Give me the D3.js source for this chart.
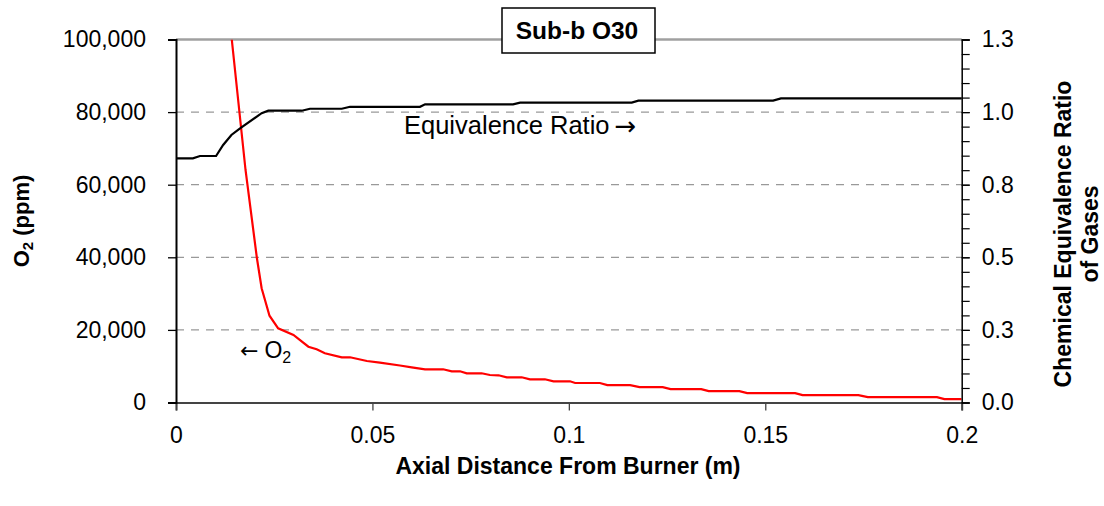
<!DOCTYPE html>
<html><head><meta charset="utf-8">
<script src="https://cdn.jsdelivr.net/npm/d3@7"></script>
<style>body{margin:0;background:#fff;} text{font-family:"Liberation Sans",Arial,sans-serif;}</style>
</head><body><svg id="c" width="1104" height="506"></svg>
<script>
const xTicks = [0, 0.05, 0.1, 0.15, 0.2];
const leftTicks = [0, 20000, 40000, 60000, 80000, 100000];
const rightTicks = [0, 0.26, 0.52, 0.78, 1.04, 1.3];
const o2X = [0.0142,0.0177,0.0206,0.0218,0.0238,0.0260,0.0299,0.0337,0.0358,0.0379,0.0422,0.0443,0.0486,0.0519,0.0570,0.0600,0.0634,0.0680,0.0702,0.0723,0.0740,0.0778,0.0799,0.0821,0.0842,0.0880,0.0901,0.0939,0.0961,0.1003,0.1016,0.1079,0.1098,0.1156,0.1180,0.1239,0.1259,0.1337,0.1356,0.1434,0.1454,0.1576,0.1595,0.1737,0.1761,0.1937,0.1956,0.2];
const o2Y = [100000,64051,39727,31462,23914,20442,18596,15373,14657,13554,12452,12452,11433,10965,10200,9698,9147,9147,8596,8596,8045,8045,7576,7494,6943,6943,6392,6392,5841,5841,5372,5372,4775,4775,4224,4224,3673,3673,3122,3122,2571,2571,2020,2020,1469,1469,918,918];
const erX = [0,0.0043,0.0061,0.0102,0.0120,0.0141,0.0163,0.0218,0.0235,0.0320,0.0341,0.0422,0.0443,0.0621,0.0634,0.0858,0.0876,0.1160,0.1177,0.1520,0.1540,0.2];
const erY = [0.8745,0.8745,0.8828,0.8828,0.9222,0.958,0.982,1.036,1.045,1.045,1.052,1.052,1.059,1.059,1.068,1.068,1.074,1.074,1.081,1.081,1.089,1.089];

const L=176, R=961.7, T=39.5, B=402.5;
const svg = d3.select("#c");
const x = d3.scaleLinear().domain([0,0.2]).range([L,R]);
const yL = d3.scaleLinear().domain([0,100000]).range([B,T]);
const yR = d3.scaleLinear().domain([0,1.3]).range([B,T]);

// gridlines
svg.append("g").selectAll("line").data(leftTicks.slice(1,5)).join("line")
  .attr("x1",L).attr("x2",R).attr("y1",d=>yL(d)).attr("y2",d=>yL(d))
  .attr("stroke","#999").attr("stroke-width",1.3).attr("stroke-dasharray","8,7");
// top border
svg.append("line").attr("x1",L).attr("x2",R).attr("y1",T).attr("y2",T).attr("stroke","#a0a0a0").attr("stroke-width",2.5);

// data lines
svg.append("clipPath").attr("id","pc").append("rect").attr("x",L).attr("y",T).attr("width",R-L).attr("height",B-T);
svg.append("path").datum(o2X.map((v,i)=>[v,o2Y[i]]))
  .attr("d", d3.line().x(d=>x(d[0])).y(d=>yL(d[1])))
  .attr("fill","none").attr("stroke","#ff0000").attr("stroke-width",2.2).attr("clip-path","url(#pc)");
svg.append("path").datum(erX.map((v,i)=>[v,erY[i]]))
  .attr("d", d3.line().x(d=>x(d[0])).y(d=>yR(d[1])))
  .attr("fill","none").attr("stroke","#000").attr("stroke-width",2.2);

// axes
const fs = 23;
const gx = svg.append("g").attr("transform",`translate(0,${B})`)
  .call(d3.axisBottom(x).tickValues(xTicks).tickFormat(d=>String(d)).tickSizeOuter(0).tickSize(8).tickPadding(16));
gx.select(".domain").attr("stroke","#444").attr("stroke-width",2);
gx.selectAll(".tick line").attr("stroke","#444").attr("stroke-width",1.3);
gx.selectAll("text").attr("font-size",fs).attr("fill","#000").attr("font-family","Liberation Sans, Arial");

const gl = svg.append("g").attr("transform",`translate(${L},0)`)
  .call(d3.axisLeft(yL).tickValues(leftTicks).tickFormat(d3.format(",")).tickSizeOuter(0).tickSize(8).tickPadding(22));
gl.select(".domain").attr("stroke","#000").attr("stroke-width",2);
gl.selectAll(".tick line").attr("stroke","#000").attr("stroke-width",1.3);
gl.selectAll("text").attr("font-size",fs).attr("fill","#000").attr("font-family","Liberation Sans, Arial");

const minor = d3.range(0,26).map(i=>i*0.052);
const gr = svg.append("g").attr("transform",`translate(${R},0)`)
  .call(d3.axisRight(yR).tickValues(minor).tickFormat(()=>"").tickSizeOuter(0).tickSize(8));
gr.select(".domain").attr("stroke","#000").attr("stroke-width",1.5);
gr.selectAll(".tick line").attr("stroke","#000").attr("stroke-width",1.2);
const gr2 = svg.append("g").attr("transform",`translate(${R},0)`)
  .call(d3.axisRight(yR).tickValues(rightTicks).tickFormat(d3.format(".1f")).tickSize(8).tickPadding(12));
gr2.select(".domain").remove();
gr2.selectAll(".tick line").attr("stroke","#000").attr("stroke-width",1.2);
gr2.selectAll("text").attr("font-size",fs).attr("fill","#000").attr("font-family","Liberation Sans, Arial");

// titles
svg.append("text").attr("x",568).attr("y",474).attr("text-anchor","middle")
  .attr("font-size",23).attr("font-weight","bold").text("Axial Distance From Burner (m)");
const ly = svg.append("text").attr("transform","translate(29,221) rotate(-90)").attr("text-anchor","middle")
  .attr("font-size",22).attr("font-weight","bold");
ly.append("tspan").text("O");
ly.append("tspan").attr("font-size",15).attr("dy",4).text("2");
ly.append("tspan").attr("dy",-4).text(" (ppm)");
svg.append("text").attr("transform","translate(1071,234) rotate(-90)").attr("text-anchor","middle")
  .attr("font-size",23).attr("font-weight","bold").text("Chemical Equivalence Ratio");
svg.append("text").attr("transform","translate(1098,234) rotate(-90)").attr("text-anchor","middle")
  .attr("font-size",23).attr("font-weight","bold").text("of Gases");

// title box
svg.append("rect").attr("x",502).attr("y",8).attr("width",153).attr("height",45)
  .attr("fill","#fff").attr("stroke","#000").attr("stroke-width",1.5);
svg.append("text").attr("x",577).attr("y",38.5).attr("text-anchor","middle")
  .attr("font-size",24.5).attr("font-weight","bold").text("Sub-b O30");

// annotations
const ae = svg.append("text").attr("x",404).attr("y",134).attr("font-size",25.5);
ae.append("tspan").text("Equivalence Ratio");
ae.append("tspan").attr("font-family","DejaVu Sans").attr("font-size",26).attr("dx",5).attr("dy",1).text("\u2192");
const ao = svg.append("text").attr("x",240).attr("y",358).attr("font-size",23);
ao.append("tspan").attr("font-family","DejaVu Sans").attr("font-size",22).text("\u2190");
ao.append("tspan").attr("dx",6).text("O");
ao.append("tspan").attr("font-size",16).attr("dy",5).text("2");
</script></body></html>
